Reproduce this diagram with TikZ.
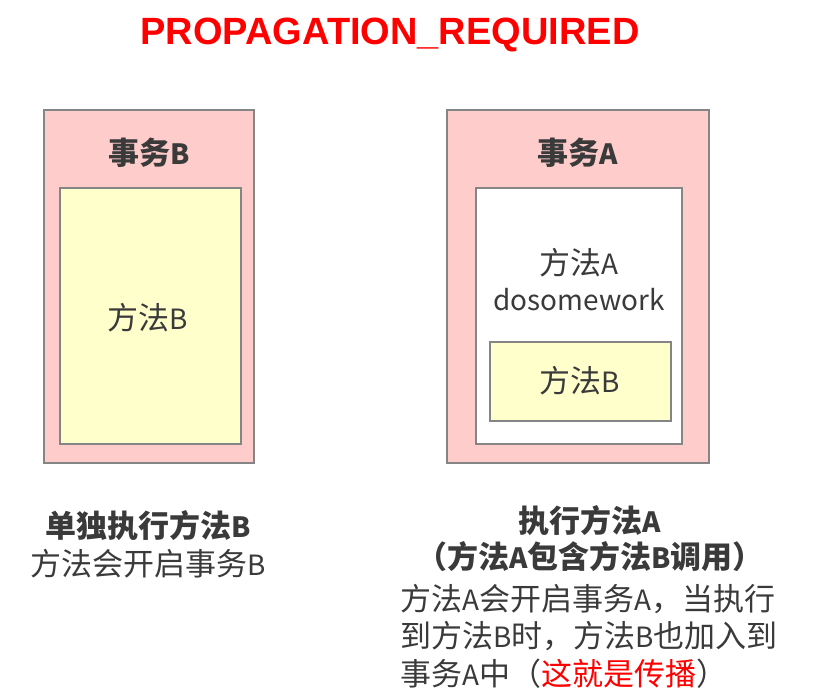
\documentclass[tikz,border=0pt]{standalone}
\usepackage{fontspec}
\setmainfont{Noto Sans CJK SC}
\newfontfamily\titlefont{Liberation Sans}
\newfontfamily\latinpart[Scale=0.9]{Noto Sans CJK SC}
\newcommand\Lt[1]{{\latinpart #1}}
\definecolor{pinkbg}{HTML}{FFCCCC}
\definecolor{yellowbg}{HTML}{FFFFCC}
\definecolor{edgegray}{HTML}{858585}
\definecolor{txt}{HTML}{3A3A3A}
\begin{document}
\begin{tikzpicture}[x=1pt,y=-1pt,
  boxstyle/.style={draw=edgegray,line width=1.6pt},
  lbl/.style={text=txt,inner sep=0pt,font=\fontsize{31}{36}\selectfont},
  lblb/.style={lbl,font=\fontsize{31}{36}\selectfont\bfseries}]
\useasboundingbox (0,0) rectangle (826,696);
% title
\node[text=red,inner sep=0pt,font=\titlefont\fontsize{38}{40}\selectfont\bfseries] (title) at (390,35) {PROPAGATION\_REQUIRED};
% left
\draw[boxstyle,fill=pinkbg] (44,110) rectangle (254,463);
\draw[boxstyle,fill=yellowbg] (60,188) rectangle (241,444);
\node[lblb] (txB) at (149,153) {事务\Lt{B}};
\node[lbl] (mB1) at (148,318) {方法\Lt{B}};
% right
\draw[boxstyle,fill=pinkbg] (447,110) rectangle (709,463);
\draw[boxstyle,fill=white] (476,188) rectangle (682,444);
\draw[boxstyle,fill=yellowbg] (490,342) rectangle (671,421);
\node[lblb] (txA) at (578,153) {事务\Lt{A}};
\node[lbl,align=center] (mA) at (579,280) {方法\Lt{A}\\\Lt{dosomework}};
\node[lbl] (mB2) at (580,381) {方法\Lt{B}};
% bottom captions
\node[lbl,align=center,font=\fontsize{31}{38}\selectfont] (capL) at (148,544) {\textbf{单独执行方法\Lt{B}}\\方法会开启事务\Lt{B}};
\node[lblb,align=center,font=\fontsize{31}{36}\selectfont\bfseries] (capR1) at (590,539) {执行方法\Lt{A}\\（方法\Lt{A}包含方法\Lt{B}调用）};
\node[lbl,align=left,anchor=west,font=\fontsize{31}{37.5}\selectfont] (capR2) at (400,636) {方法\Lt{A}会开启事务\Lt{A}，当执行\\到方法\Lt{B}时，方法\Lt{B}也加入到\\事务\Lt{A}中（\textcolor{red}{这就是传播}）};
\end{tikzpicture}
\end{document}
